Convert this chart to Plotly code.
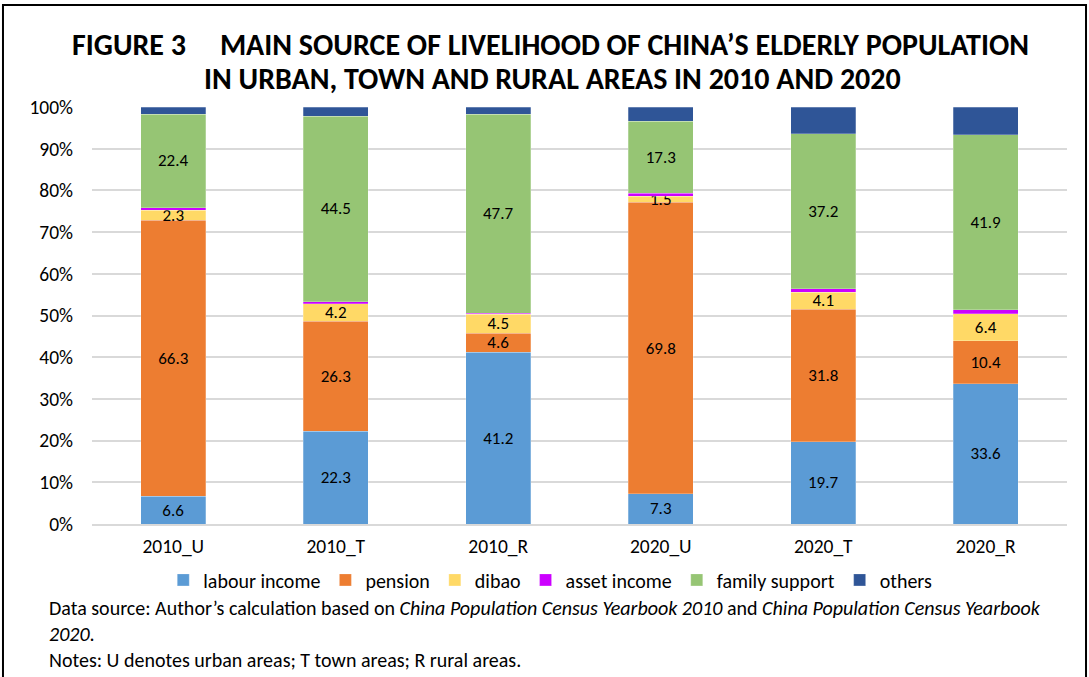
import plotly.graph_objects as go

categories = ["2010_U", "2010_T", "2010_R", "2020_U", "2020_T", "2020_R"]
labour_income = [6.6, 22.3, 41.2, 7.3, 19.7, 33.6]
pension = [66.3, 26.3, 4.6, 69.8, 31.8, 10.4]
dibao = [2.3, 4.2, 4.5, 1.5, 4.1, 6.4]
asset_income = [0.7, 0.5, 0.3, 0.7, 0.8, 1.0]
family_support = [22.4, 44.5, 47.7, 17.3, 37.2, 41.9]
others = [1.7, 2.2, 1.7, 3.4, 6.4, 6.7]

series = [
    ("labour income", labour_income, "#5B9BD5", True),
    ("pension", pension, "#ED7D31", True),
    ("dibao", dibao, "#FFD966", True),
    ("asset income", asset_income, "#CC00FF", False),
    ("family support", family_support, "#96C574", True),
    ("others", others, "#2F5597", False),
]

FONT = "Carlito, Calibri, Lato, sans-serif"

fig = go.Figure()
for name, vals, color, show in series:
    fig.add_trace(go.Bar(
        name=name, x=categories, y=[v / 100 for v in vals],
        marker=dict(color=color, line=dict(color="rgba(255,255,255,0.5)", width=0.5)),
        text=[f"{v:.1f}" for v in vals] if show else None,
        textposition="inside" if show else "none",
        insidetextanchor="middle",
        textfont=dict(size=17, color="black", family=FONT),
        hoverinfo="skip",
    ))

fig.update_layout(
    barmode="stack",
    bargap=0.6,
    width=1089, height=677,
    margin=dict(l=92, r=22, t=107, b=153),
    paper_bgcolor="white", plot_bgcolor="white",
    font=dict(family=FONT, size=19.5, color="black"),
    uniformtext=dict(minsize=17, mode="show"),
    showlegend=True,
    legend=dict(orientation="h", x=0.47, xanchor="center", y=-0.134, yanchor="middle",
                font=dict(size=20, family=FONT), traceorder="normal",
                itemwidth=30, tracegroupgap=0),
)
fig.update_yaxes(range=[0, 1], tickvals=[i / 10 for i in range(11)], tickformat=".0%",
                 showgrid=True, gridcolor="#D9D9D9", gridwidth=1.5, zeroline=False,
                 showline=False, ticklabelstandoff=18, tickfont=dict(size=19.5))
fig.update_xaxes(showline=True, linecolor="#D9D9D9", linewidth=1.5, ticks="",
                 ticklabelstandoff=4, tickfont=dict(size=19.5))

fig.add_annotation(xref="paper", yref="paper", x=0.47, y=1.1487, xanchor="center", yanchor="middle",
                   text="<b>FIGURE 3&nbsp;&nbsp;&nbsp;&nbsp;&nbsp;MAIN SOURCE OF LIVELIHOOD OF CHINA’S ELDERLY POPULATION</b>",
                   showarrow=False, font=dict(size=30, family=FONT))
fig.add_annotation(xref="paper", yref="paper", x=0.472, y=1.0695, xanchor="center", yanchor="middle",
                   text="<b>IN URBAN, TOWN AND RURAL AREAS IN 2010 AND 2020</b>",
                   showarrow=False, font=dict(size=30, family=FONT))

notes_text = ("Data source: Author’s calculation based on <i>China Population Census Yearbook 2010</i> "
              "and <i>China Population Census Yearbook</i><br><i>2020</i>.<br>"
              "Notes: U denotes urban areas; T town areas; R rural areas.")
fig.add_annotation(xref="paper", yref="paper", x=-0.0462, y=-0.167, xanchor="left", yanchor="top",
                   text=notes_text, showarrow=False, font=dict(size=20, family=FONT), align="left")

fig.add_shape(type="rect", xref="paper", yref="paper", x0=-0.0913, x1=1.0195, y0=-0.40, y1=1.2446,
              line=dict(color="black", width=2), fillcolor="rgba(0,0,0,0)", layer="below")

fig.write_html("out.html")
